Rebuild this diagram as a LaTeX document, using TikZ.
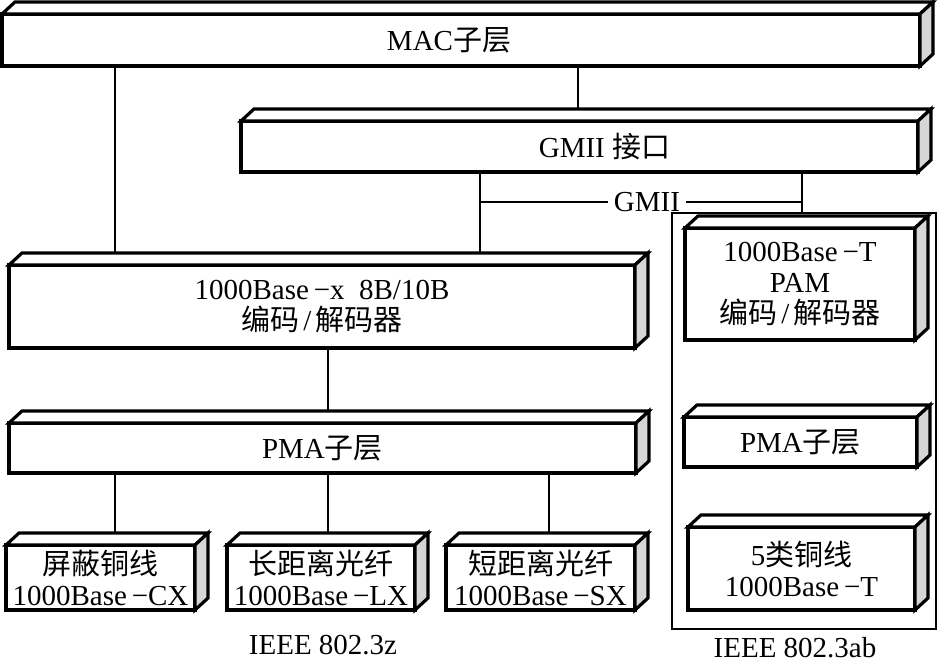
\documentclass[tikz,border=0pt]{standalone}
\usepackage{fontspec}
\setmainfont{Liberation Serif}
\newfontfamily\cjk{Noto Sans CJK SC}
\usetikzlibrary{calc}
\definecolor{sidegray}{RGB}{214,214,214}
\newcommand\slsh{\hspace{4pt}/\hspace{4pt}}
\tikzset{
  cubefront/.style={draw, line width=3.2pt, fill=white, rectangle, outer sep=0pt, inner sep=1pt,
    align=center, font=\fontsize{29}{31}\selectfont},
  cubeface/.style={draw, line width=3.2pt, line join=miter},
  conn/.style={draw, line width=1.3pt},
  framebox/.style={draw, line width=1.3pt, rectangle, outer sep=0pt, inner sep=0pt},
  lbl/.style={font=\fontsize{29}{29}\selectfont, inner sep=6pt}
}
\newcommand\cubebox[6]{%
  \node[cubefront, minimum width=#4pt, minimum height=#5pt] (#1) at (#2,#3) {#6};
  \draw[cubeface, fill=white] (#1.north west) -- ++(13,-12) -- ($(#1.north east)+(13,-12)$) -- (#1.north east) -- cycle;
  \draw[cubeface, fill=sidegray] (#1.north east) -- ++(13,-12) -- ($(#1.south east)+(13,-12)$) -- (#1.south east) -- cycle;
  \coordinate (#1-top) at ($(#1.north)+(13,-12)$);
}
\begin{document}
\begin{tikzpicture}[x=1pt, y=-1pt]
\useasboundingbox[fill=white] (0,0) rectangle (939,663);
% named x positions
\coordinate (xa) at (115,0);
\coordinate (xb) at (578,0);
\coordinate (xc) at (480,0);
\coordinate (xd) at (802,0);
\coordinate (xe) at (328,0);
\coordinate (xf) at (549,0);

\node[framebox, minimum width=264pt, minimum height=416pt] (abframe) at (804,421) {};

\cubebox{mac}{461}{40}{918}{52}{MAC{\cjk 子层}\hspace*{24pt}}
\cubebox{gmii}{579.5}{146.5}{677}{51}{\hspace*{50pt}GMII {\cjk 接口}}
\cubebox{bx}{322}{306.5}{626}{83}{1000Base\,−x\ \ 8B/10B\\{\cjk 编码}\slsh{\cjk 解码器}}
\cubebox{pmaL}{322.5}{448}{627}{50}{PMA{\cjk 子层}}
\cubebox{cx}{100.5}{577.5}{189}{65}{{\cjk 屏蔽铜线}\\1000Base\,−CX}
\cubebox{lx}{321}{577.5}{188}{65}{{\cjk 长距离光纤}\\1000Base\,−LX}
\cubebox{sx}{540.5}{577.5}{189}{65}{{\cjk 短距离光纤}\\1000Base\,−SX}
\cubebox{pam}{800}{284}{230}{112}{1000Base\,−T\\PAM\\{\cjk 编码}\slsh{\cjk 解码器}}
\cubebox{pmaR}{800.5}{442}{233}{50}{PMA{\cjk 子层}}
\cubebox{cat}{801.5}{568.5}{227}{83}{5{\cjk 类铜线}\\1000Base\,−T}

\node[lbl] (gmiilbl) at (647,202) {GMII};
\node[lbl] (z) at (323,645) {IEEE 802.3z};
\node[lbl] (ab) at (795,648) {IEEE 802.3ab};

% connectors
\draw[conn] (mac.south -| xa) -- (bx-top -| xa);
\draw[conn] (mac.south -| xb) -- (gmii-top -| xb);
\draw[conn] (gmii.south -| xc) -- (bx-top -| xc);
\draw[conn] (gmiilbl.west) -- (gmiilbl.west -| xc);
\draw[conn] (gmiilbl.east) -- (gmiilbl.east -| xd);
\draw[conn] (gmii.south -| xd) -- (abframe.north -| xd);
\draw[conn] (bx.south -| xe) -- (pmaL-top -| xe);
\draw[conn] (pmaL.south -| xa) -- (cx-top -| xa);
\draw[conn] (pmaL.south -| xe) -- (lx-top -| xe);
\draw[conn] (pmaL.south -| xf) -- (sx-top -| xf);
\end{tikzpicture}
\end{document}
